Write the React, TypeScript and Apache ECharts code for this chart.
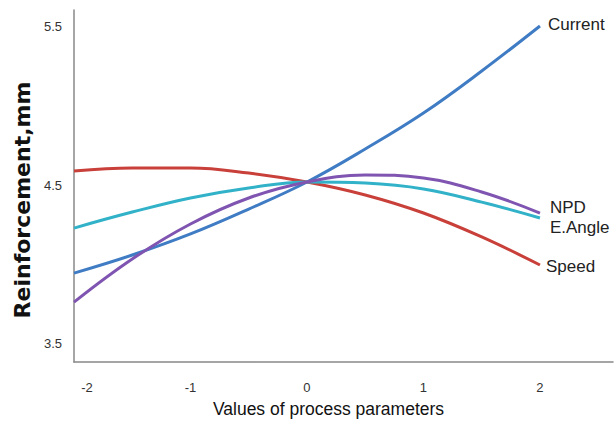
import React, { useEffect, useRef } from "react";
import * as echarts from "echarts";

const xValues = [-2, -1.5, -1, -0.5, 0, 0.5, 1, 1.5, 2];
const currentValues = [3.947, 4.061, 4.194, 4.351, 4.522, 4.73, 4.957, 5.222, 5.506];
const speedValues = [4.591, 4.61, 4.61, 4.578, 4.522, 4.44, 4.326, 4.175, 3.998];
const angleValues = [4.231, 4.332, 4.421, 4.484, 4.522, 4.515, 4.478, 4.395, 4.295];
const npdValues = [3.764, 4.036, 4.257, 4.421, 4.522, 4.566, 4.547, 4.459, 4.326];
const xTicks = [-2, -1, 0, 1, 2];
const yTicks = [3.5, 4.5, 5.5];

const SANS = '"Liberation Sans", Arial, sans-serif';

export default function App() {
  const ref = useRef<HTMLDivElement>(null);
  useEffect(() => {
    if (!ref.current) return;
    const chart = echarts.init(ref.current, null, { renderer: "svg" });
    const pairs = (vals: number[]) => xValues.map((x, i) => [x, vals[i]]);
    const mk = (name: string, vals: number[], color: string, offset: number[]) => ({
      name,
      type: "line",
      data: pairs(vals),
      smooth: 0.4,
      showSymbol: false,
      symbol: "none",
      lineStyle: { color, width: 3 },
      itemStyle: { color },
      endLabel: {
        show: true,
        formatter: "{a}",
        color: "#222",
        fontSize: 17,
        fontFamily: SANS,
        distance: 8,
        offset,
      },
    });
    chart.setOption({
      animation: false,
      backgroundColor: "#fff",
      grid: { left: 74, right: 3, top: 10, bottom: 74, containLabel: false, outerBoundsMode: "none" },
      xAxis: {
        type: "value",
        min: -2,
        max: 2.627,
        name: "Values of process parameters",
        nameLocation: "middle",
        nameGap: 38,
        nameTextStyle: { fontFamily: SANS, fontSize: 17.5, color: "#111", padding: [0, 30, 0, 0] },
        axisLine: { show: true, onZero: false, lineStyle: { color: "#888", width: 1.5 } },
        axisTick: { show: false },
        splitLine: { show: false },
        axisLabel: {
          customValues: xTicks,
          margin: 19,
          fontFamily: SANS,
          fontSize: 13,
          color: "#333",
          formatter: (v: number) => (v === -2 ? "{p|-2}" : String(v)),
          rich: { p: { padding: [0, 0, 0, 26], fontFamily: SANS, fontSize: 13, color: "#333" } },
        },
      },
      yAxis: {
        type: "value",
        min: 3.386,
        max: 5.607,
        name: "Reinforcement,mm",
        nameLocation: "middle",
        nameGap: 34,
        nameRotate: 90,
        nameTextStyle: {
          fontFamily: '"DejaVu Sans", sans-serif',
          fontWeight: "bold",
          fontSize: 22,
          color: "#111",
          padding: [0, 28, 0, 0],
        },
        axisLine: { show: true, onZero: false, lineStyle: { color: "#888", width: 1.5 } },
        axisTick: { show: false },
        splitLine: { show: false },
        axisLabel: {
          customValues: yTicks,
          margin: 12,
          fontFamily: SANS,
          fontSize: 13,
          color: "#333",
          formatter: (v: number) => v.toFixed(1),
        },
      },
      series: [
        mk("Current", currentValues, "#3f7cc4", [0, -2]),
        mk("Speed", speedValues, "#c9403a", [-2, 1]),
        mk("E.Angle", angleValues, "#31b2c9", [2, 10]),
        mk("NPD", npdValues, "#7f55b1", [2, -6]),
      ],
    });
    return () => chart.dispose();
  }, []);
  return (
    <div
      ref={ref}
      style={{ position: "fixed", left: 0, top: 0, width: 616, height: 436, background: "#fff" }}
    />
  );
}
